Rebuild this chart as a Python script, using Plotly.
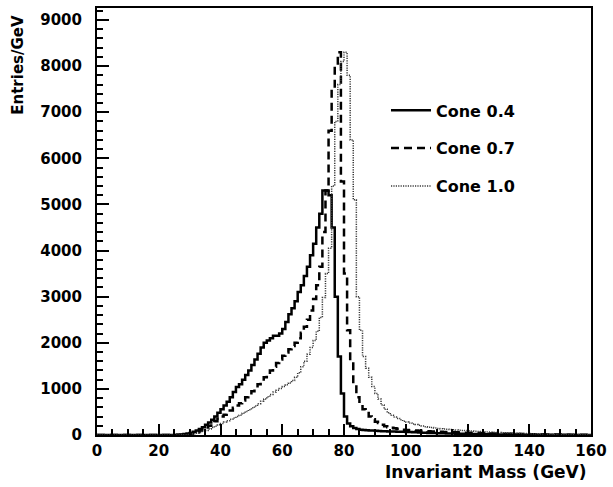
import plotly.graph_objects as go

# Histogram bin lower edges (1 GeV bins from 0 to 160)
bin_low = list(range(0, 160))

cone04 = ([0] * 26 +
          [5, 10, 20, 30, 45, 70, 95, 130, 170, 220,            # 26-35
           270, 330, 400, 480, 560, 640, 720, 820, 930, 1040,   # 36-45
           1100, 1200, 1300, 1400, 1520, 1640, 1760, 1900, 2000, 2050,  # 46-55
           2100, 2150, 2150, 2200, 2300, 2450, 2620, 2750, 2900, 3100,  # 56-65
           3250, 3450, 3650, 3900, 4150, 4500, 4800, 5300, 5300, 5200,  # 66-75
           4500, 3000, 1700, 900, 400, 250, 190, 150, 130, 115,         # 76-85
           110, 105, 100, 95, 90, 87, 84, 81, 78, 76,                   # 86-95
           74, 72, 70, 68, 66, 63, 60, 57, 54, 51,                      # 96-105
           48, 46, 44, 42, 40, 38, 36, 34, 32, 30,                      # 106-115
           29, 28, 27, 26, 25, 23, 21, 19, 18, 17,                      # 116-125
           16, 15, 14, 13, 12, 11, 10, 10, 9, 9,                        # 126-135
           8, 8, 7, 7, 6, 6, 6, 5, 5, 5,                                # 136-145
           4, 4, 4, 3, 3, 3, 3, 2, 2, 2,                                # 146-155
           2, 2, 1, 1])                                                 # 156-159

cone07 = ([0] * 26 +
          [3, 6, 10, 18, 28, 40, 60, 90, 120, 160,              # 26-35
           200, 250, 300, 350, 400, 440, 480, 530, 590, 640,    # 36-45
           690, 750, 820, 880, 950, 1020, 1100, 1170, 1250, 1320,  # 46-55
           1400, 1480, 1560, 1640, 1720, 1790, 1860, 1930, 2000, 2100,  # 56-65
           2220, 2350, 2500, 2700, 2950, 3250, 3650, 4400, 5300, 6600,  # 66-75
           7500, 8000, 8300, 5500, 3500, 2270, 1550, 1100, 820, 690,    # 76-85
           560, 475, 400, 340, 290, 260, 220, 190, 170, 155,            # 86-95
           145, 135, 125, 115, 108, 103, 99, 95, 91, 87,                # 96-105
           84, 81, 78, 75, 72, 70, 67, 64, 61, 59,                      # 106-115
           57, 55, 53, 51, 50, 48, 46, 44, 42, 40,                      # 116-125
           38, 36, 34, 32, 30, 29, 27, 26, 24, 23,                      # 126-135
           22, 21, 20, 19, 18, 17, 16, 15, 14, 13,                      # 136-145
           12, 12, 11, 11, 10, 9, 8, 8, 7, 6,                           # 146-155
           6, 5, 5, 4])                                                 # 156-159

cone10 = ([0] * 27 +
          [3, 6, 10, 15, 25, 40, 55, 75, 100,                   # 27-35
           130, 160, 190, 220, 250, 280, 310, 340, 370, 400,    # 36-45
           430, 470, 510, 550, 590, 630, 680, 730, 780, 830,    # 46-55
           880, 930, 970, 1010, 1050, 1090, 1130, 1180, 1250, 1350,     # 56-65
           1480, 1600, 1750, 1900, 2050, 2250, 2550, 2980, 3500, 4050,  # 66-75
           5400, 6800, 7600, 8100, 8300, 7800, 6400, 5100, 3000, 2270,  # 76-85
           1700, 1450, 1250, 1050, 900, 780, 650, 560, 480, 430,        # 86-95
           390, 360, 330, 300, 280, 260, 240, 225, 210, 195,            # 96-105
           180, 170, 160, 150, 140, 135, 130, 125, 120, 115,            # 106-115
           110, 105, 100, 95, 90, 86, 82, 78, 74, 70,                   # 116-125
           66, 62, 59, 56, 53, 50, 47, 44, 41, 38,                      # 126-135
           36, 34, 32, 30, 29, 28, 26, 24, 22, 20,                      # 136-145
           18, 17, 16, 15, 14, 13, 12, 11, 10, 9,                       # 146-155
           8, 7, 6, 5])                                                 # 156-159

series_names = ["Cone 0.4", "Cone 0.7", "Cone 1.0"]

x_ticks = [0, 20, 40, 60, 80, 100, 120, 140, 160]
y_ticks = [0, 1000, 2000, 3000, 4000, 5000, 6000, 7000, 8000, 9000]

FONT = "DejaVu Sans"


def step_xy(vals):
    xs = bin_low + [160]
    ys = list(vals) + [vals[-1]]
    return xs, ys


fig = go.Figure()
styles = [
    dict(color="black", width=2.5, dash="solid"),
    dict(color="black", width=2.5, dash="8px,5px"),
    dict(color="#3a3a3a", width=1.5, dash="1.2px,1.2px"),
]
for i, (name, vals) in enumerate(zip(series_names, [cone04, cone07, cone10])):
    xs, ys = step_xy(vals)
    fig.add_trace(go.Scatter(
        x=xs, y=ys, mode="lines", name=name, line_shape="hv",
        line=styles[i], legendgroup=f"g{i}", hoverinfo="skip",
    ))

fig.update_layout(
    width=613, height=487,
    margin=dict(l=97, r=19, t=6, b=52),
    paper_bgcolor="white", plot_bgcolor="white",
    font=dict(family=FONT, size=15, color="black", weight="bold"),
    showlegend=True,
    legend=dict(
        x=0.585, y=0.80, xanchor="left", yanchor="top",
        bgcolor="rgba(0,0,0,0)", borderwidth=0,
        font=dict(family=FONT, size=16, color="black", weight="bold"),
        tracegroupgap=14, itemwidth=40,
    ),
    xaxis=dict(
        range=[0, 160], tickvals=x_ticks, ticktext=[str(v) for v in x_ticks],
        ticks="inside", ticklen=11, tickwidth=1.5, tickcolor="black",
        showline=True, linewidth=2, linecolor="black", mirror=True,
        showgrid=False, zeroline=False,
        minor=dict(dtick=5, ticks="inside", ticklen=6, tickwidth=1.5, tickcolor="black", showgrid=False),
        tickfont=dict(family=FONT, size=15, weight="bold"), ticklabelstandoff=1,
    ),
    yaxis=dict(
        range=[0, 9260], tickvals=y_ticks, ticktext=[str(v) for v in y_ticks],
        ticks="inside", ticklen=12, tickwidth=1.5, tickcolor="black",
        showline=True, linewidth=2, linecolor="black", mirror=True,
        showgrid=False, zeroline=False,
        minor=dict(dtick=200, ticks="inside", ticklen=6, tickwidth=1.5, tickcolor="black", showgrid=False),
        tickfont=dict(family=FONT, size=15, weight="bold"), ticklabelstandoff=10,
    ),
    annotations=[
        dict(text="Invariant Mass (GeV)", xref="paper", yref="paper",
             x=0.995, y=-0.086, xanchor="right", yanchor="middle",
             showarrow=False, font=dict(family=FONT, size=17, weight="bold")),
        dict(text="Entries/GeV", xref="paper", yref="paper",
             x=-0.159, y=0.99, xanchor="center", yanchor="top", textangle=-90,
             showarrow=False, font=dict(family=FONT, size=15, weight="bold")),
    ],
)

fig.write_html("out.html")
